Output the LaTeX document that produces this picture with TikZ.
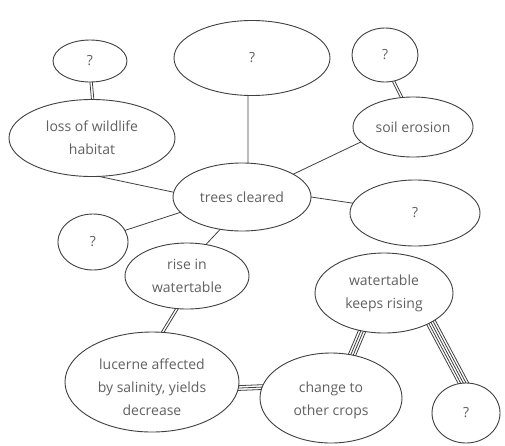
\documentclass[tikz,border=0pt]{standalone}
\usepackage{fontspec}
\setmainfont{Open Sans}
\usetikzlibrary{shapes.geometric,calc}
\pgfdeclarelayer{back}
\pgfdeclarelayer{bg}
\pgfsetlayers{back,bg,main}
\definecolor{linec}{gray}{0.25}
\definecolor{textc}{gray}{0.38}
\newcommand\mlines[3]{%
  \path ($(#1)!-5pt!(#2)$) coordinate (mls) ($(#2)!-5pt!(#1)$) coordinate (mle);
  \begin{pgfonlayer}{bg}
  \foreach \o in {#3} {\draw[conn] ($(mls)!\o pt!90:(mle)$) -- ($(mle)!\o pt!-90:(mls)$);}
  \end{pgfonlayer}}
\begin{document}
\begin{tikzpicture}[x=1pt,y=-1pt,
  bub/.style={ellipse, draw=linec, line width=0.9pt, fill=white, inner sep=0pt, outer sep=0pt},
  txt/.style={text=textc, font=\fontsize{14}{23}\selectfont, align=center, inner sep=0pt},
  conn/.style={draw=linec, line width=0.8pt}]
\begin{pgfonlayer}{back}
\fill[white] (0,0) rectangle (505,445);
\end{pgfonlayer}
\useasboundingbox (0,0) rectangle (505,445);
% bubbles
\node[bub, minimum width=74pt, minimum height=42pt, label={[txt]center:?}] (q1) at (90,61) {};
\node[bub, minimum width=166pt, minimum height=77pt, label={[txt]center:{loss of wildlife\\habitat}}] (loss) at (92,138) {};
\node[bub, minimum width=156pt, minimum height=75pt, label={[txt]center:?}] (bigq) at (252,58) {};
\node[bub, minimum width=66pt, minimum height=54pt, label={[txt]center:?}] (q2) at (385,55) {};
\node[bub, minimum width=120pt, minimum height=60pt, label={[txt]center:soil erosion}] (soil) at (413,127) {};
\node[bub, minimum width=138pt, minimum height=68pt, label={[txt]center:trees cleared}] (trees) at (242,197) {};
\node[bub, minimum width=130pt, minimum height=66pt, label={[txt]center:?}] (q3) at (415,213) {};
\node[bub, minimum width=70pt, minimum height=56pt, label={[txt]center:?}] (q4) at (93,242) {};
\node[bub, minimum width=124pt, minimum height=66pt, label={[txt]center:{rise in\\watertable}}] (rise) at (187,276) {};
\node[bub, minimum width=174pt, minimum height=100pt, label={[txt,yshift=-5pt]center:{lucerne affected\\by salinity, yields\\decrease}}] (luc) at (152,382) {};
\node[bub, minimum width=138pt, minimum height=80pt, label={[txt]center:{watertable\\keeps rising}}] (keeps) at (384,293) {};
\node[bub, minimum width=142pt, minimum height=90pt, label={[txt,yshift=-2pt]center:{change to\\other crops}}] (change) at (331,398) {};
\node[bub, minimum width=68pt, minimum height=60pt, label={[txt]center:?}] (q5) at (466,413) {};
% single connectors
\draw[conn] (bigq.264) -- (trees.80);
\draw[conn] (trees.176) -- (loss.-80);
\draw[conn] (trees.24) -- (soil.196);
\draw[conn] (trees.0) -- (q3.171);
\draw[conn] (trees.194) -- (q4.20);
\draw[conn] (trees.236) -- (rise.59);
% multi-line connectors
\mlines{q1.-87}{loss.89}{-1.2,1.2}
\mlines{q2.-72}{soil.111}{-1.2,1.2}
\mlines{rise.253}{luc.78}{-1.2,1.2}
\mlines{luc.-4}{change.171}{-2.4,0,2.4}
\mlines{keeps.240}{change.64}{-3.6,-1.2,1.2,3.6}
\mlines{keeps.-32}{q5.95}{-4.8,-2.4,0,2.4,4.8}
\end{tikzpicture}
\end{document}
